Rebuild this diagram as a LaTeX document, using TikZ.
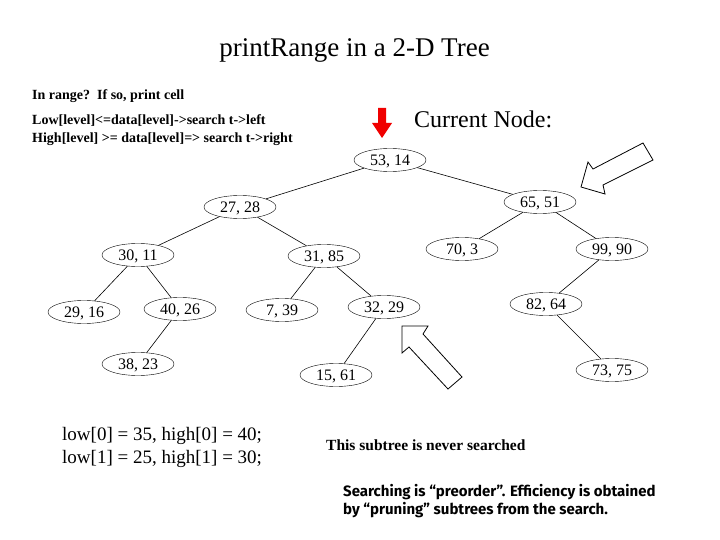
\documentclass[tikz,border=0pt]{standalone}
\usepackage{fontspec}
\setmainfont{Liberation Serif}
\newfontfamily\notefont{Fira Sans}
\usetikzlibrary{shapes.geometric}
\definecolor{cursor}{HTML}{F00000}
\tikzset{kd/.style={draw,ellipse,minimum width=72pt,minimum height=23pt,inner sep=0pt,text depth=0pt,font=\fontsize{16}{16}\selectfont},txt/.style={anchor=base west,inner sep=0pt,align=left},rule/.style={txt,font=\fontsize{14}{18}\selectfont\bfseries},edge/.style={line width=0.6pt},hollow/.style={draw,fill=white,line width=0.8pt,line join=miter}}

\begin{document}
\begin{tikzpicture}[x=1pt,y=-1pt]
\useasboundingbox (0,0) rectangle (720,540);
\node[anchor=base,inner sep=0pt,font=\fontsize{27}{27}\selectfont] (title) at (354.5,57) {printRange in a 2-D Tree};
\node[rule] (inrange) at (32,100) {In range?\ \ If so, print cell};
\node[rule] (lowrule) at (32,125) {Low[level]<=data[level]->search t->left};
\node[rule] (highrule) at (32,143) {High[level] >= data[level]=> search t->right};
\node[txt,font=\fontsize{24}{24}\selectfont] (current) at (414,128) {Current Node:};
% kd-tree
\node[kd] (a5314) at (390,160) {53, 14};
\node[kd] (a2728) at (240,207) {27, 28};
\node[kd] (a6551) at (540,202) {65, 51};
\node[kd] (a3011) at (138,255) {30, 11};
\node[kd] (a3185) at (324,256) {31, 85};
\node[kd] (a703) at (462,249) {70, 3};
\node[kd] (a9990) at (612,249) {99, 90};
\node[kd] (a2916) at (84,312) {29, 16};
\node[kd] (a4026) at (180,309) {40, 26};
\node[kd] (a739) at (282,310) {7, 39};
\node[kd] (a3229) at (384,307) {32, 29};
\node[kd] (a8264) at (546,304) {82, 64};
\node[kd] (a3823) at (138,364) {38, 23};
\node[kd] (a1561) at (336,375) {15, 61};
\node[kd] (a7375) at (612,370) {73, 75};
\draw[edge] (a5314) -- (a2728);\draw[edge] (a5314) -- (a6551);\draw[edge] (a2728) -- (a3011);\draw[edge] (a2728) -- (a3185);\draw[edge] (a3011) -- (a2916);\draw[edge] (a3011) -- (a4026);\draw[edge] (a4026) -- (a3823);
\draw[edge] (a3185) -- (a739);\draw[edge] (a3185) -- (a3229);\draw[edge] (a3229) -- (a1561);\draw[edge] (a6551) -- (a703);\draw[edge] (a6551) -- (a9990);\draw[edge] (a9990) -- (a8264);\draw[edge] (a8264) -- (a7375);
% pointers
\fill[cursor] (378,108) -- (386,108) -- (386,123) -- (392,123) -- (382,138) -- (372,123) -- (378,123) -- cycle;
\draw[hollow] (581,187) -- (588,162) -- (593,169) -- (643,143) -- (653,160) -- (603,185) -- (605,194) -- cycle;
\draw[hollow] (402,326) -- (428,326) -- (423,334) -- (462,377) -- (448,389) -- (409,347) -- (402,353) -- cycle;
% notes
\node[txt,font=\fontsize{19}{23}\selectfont] (bounds) at (62,463) {low[0] = 35, high[0] = 40;\\low[1] = 25, high[1] = 30;};
\node[txt,font=\fontsize{15.5}{18}\selectfont\bfseries] (never) at (326,450) {This subtree is never searched};
\node[txt,font=\fontsize{15}{18}\selectfont\notefont\bfseries] (prune) at (343,514) {Searching is “preorder”. Efficiency is obtained\\by “pruning” subtrees from the search.};
\end{tikzpicture}
\end{document}
